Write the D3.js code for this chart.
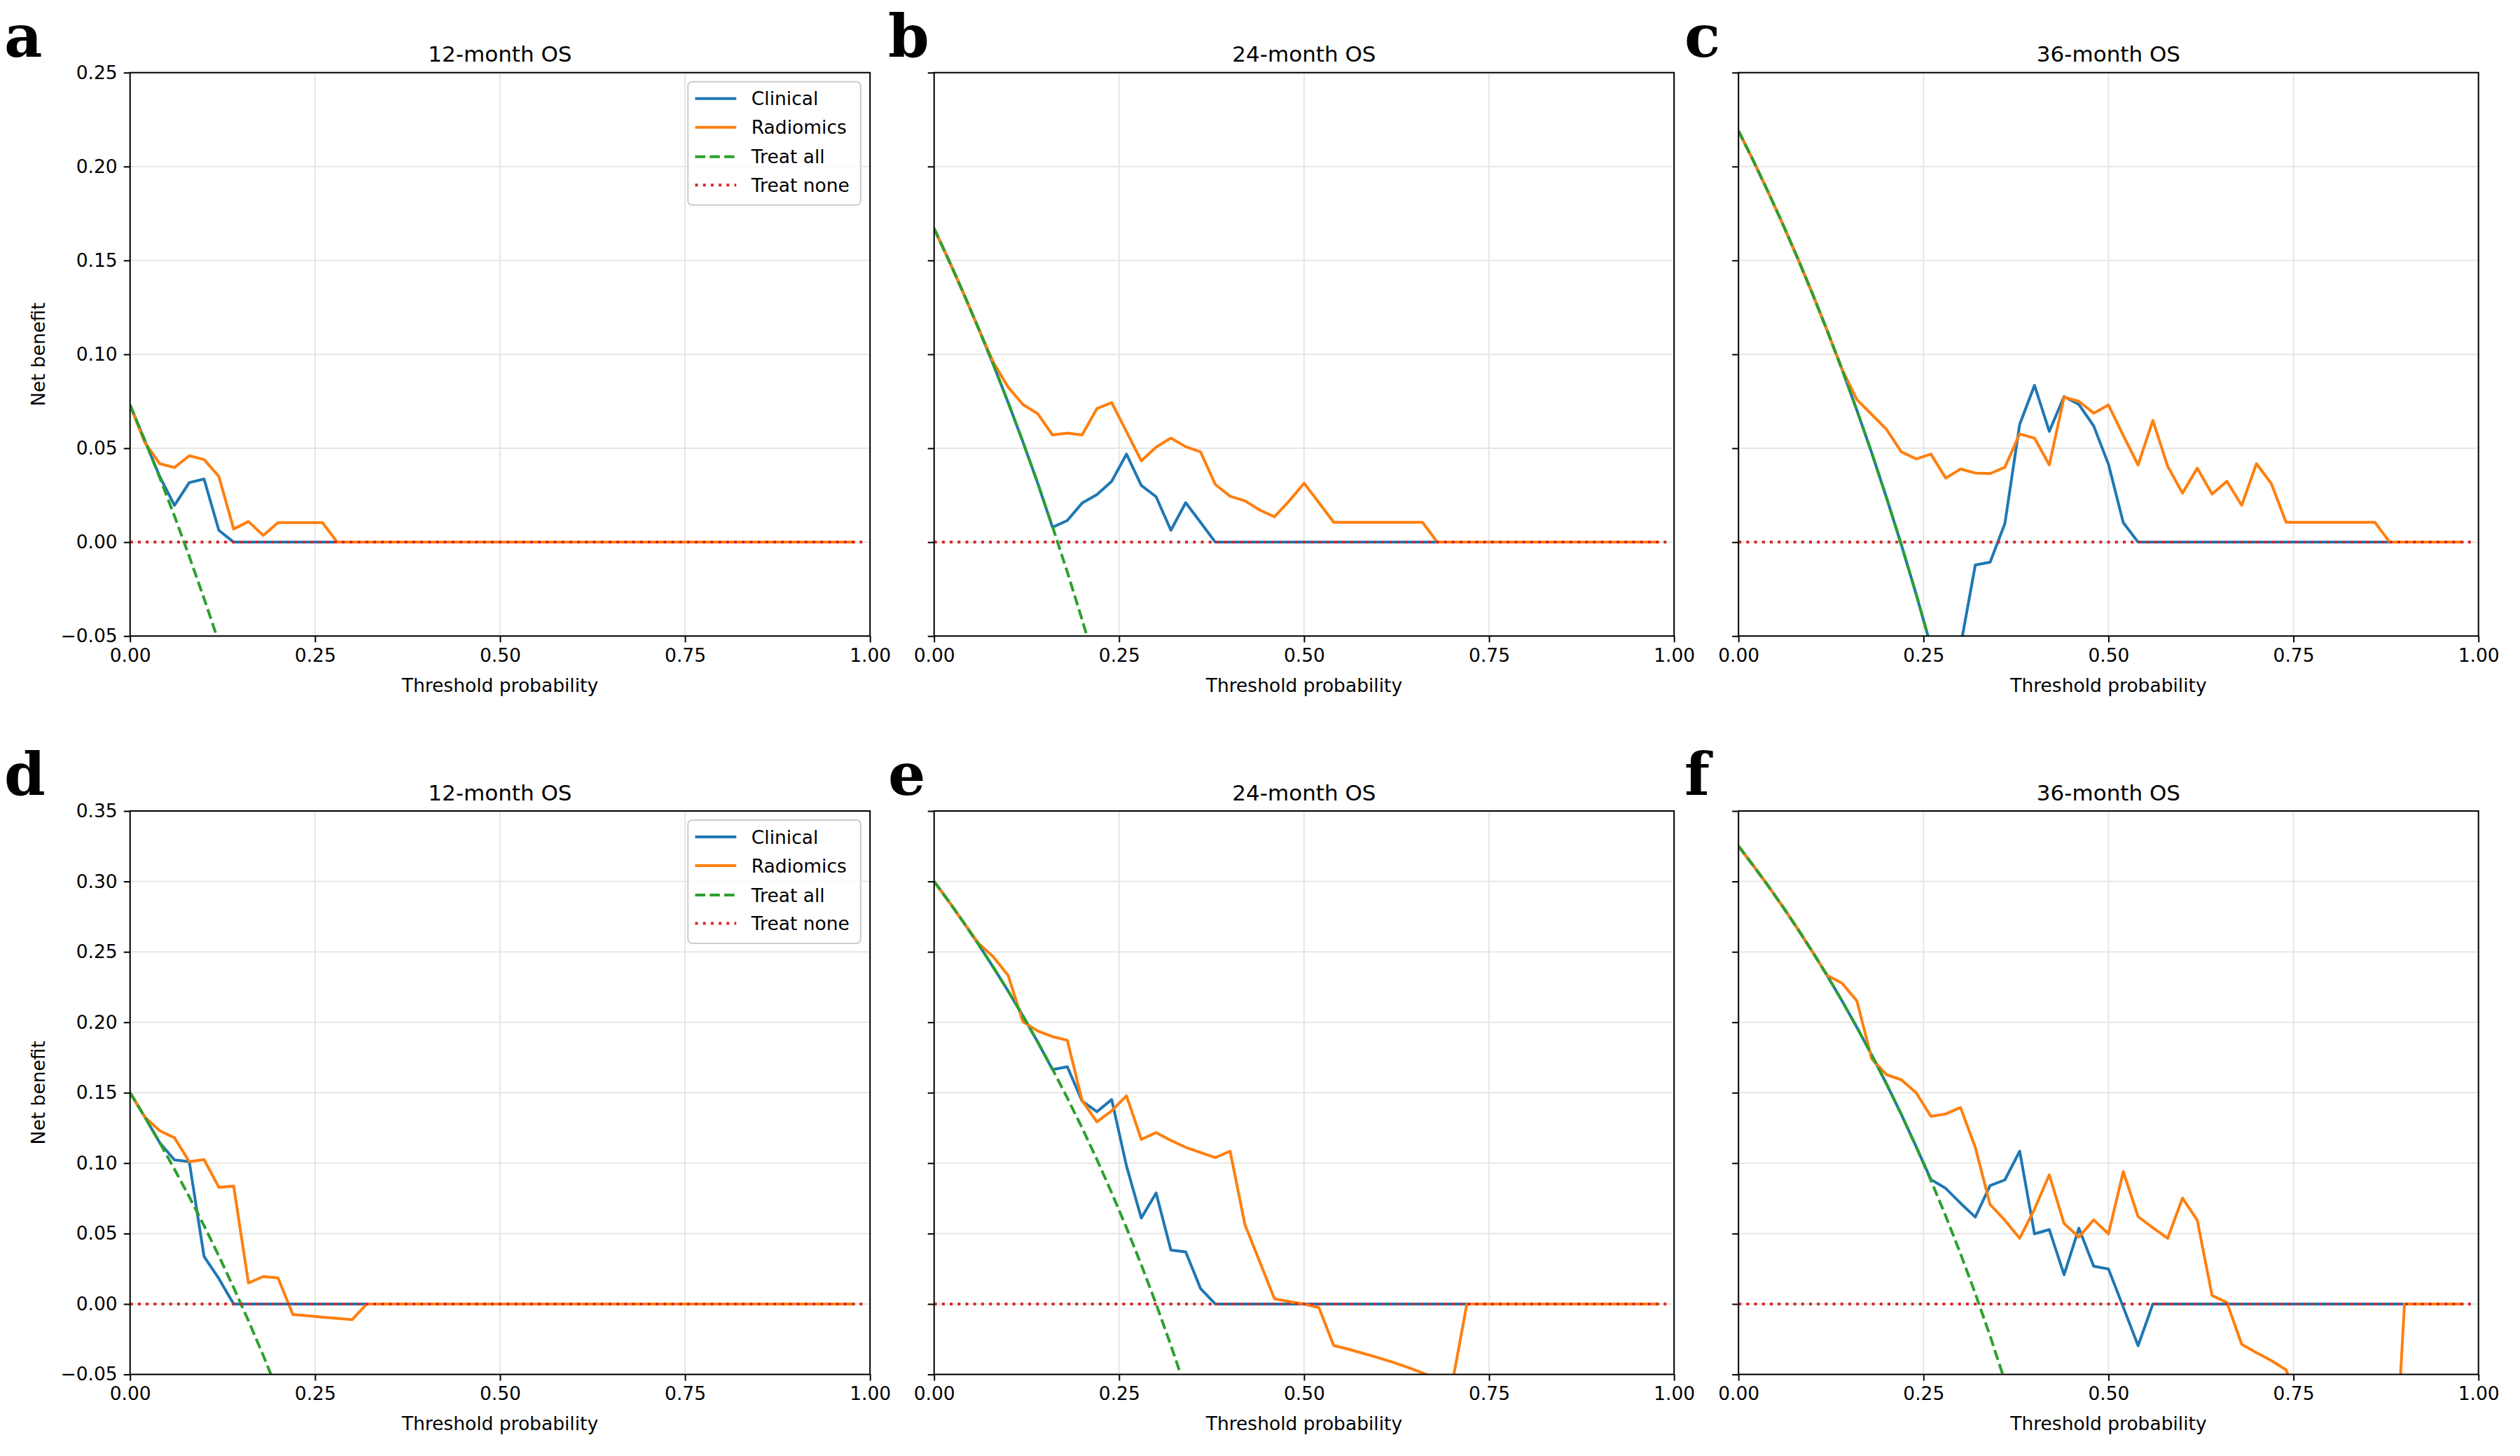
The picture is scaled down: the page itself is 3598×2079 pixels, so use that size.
<!DOCTYPE html>
<html>
<head>
<meta charset="utf-8">
<script src="https://cdn.jsdelivr.net/npm/d3@7"></script>
<style>
  body { margin: 0; background: #fff; }
  svg { display: block; }
</style>
</head>
<body>
<div id="chart"></div>
<script>
// Threshold grid shared by every panel
const thresholds = [0.00, 0.02, 0.04, 0.06, 0.08, 0.10, 0.12, 0.14, 0.16, 0.18,
  0.20, 0.22, 0.24, 0.26, 0.28, 0.30, 0.32, 0.34, 0.36, 0.38,
  0.40, 0.42, 0.44, 0.46, 0.48, 0.50, 0.52, 0.54, 0.56, 0.58,
  0.60, 0.62, 0.64, 0.66, 0.68, 0.70, 0.72, 0.74, 0.76, 0.78,
  0.80, 0.82, 0.84, 0.86, 0.88, 0.90, 0.92, 0.94, 0.96, 0.98];
const treatNoneX = [0, 0.99];
const treatNone = [0, 0];

const xTicks = [0, 0.25, 0.5, 0.75, 1.0];
const yTicksTop = [-0.05, 0, 0.05, 0.10, 0.15, 0.20, 0.25];
const yTicksBottom = [-0.05, 0, 0.05, 0.10, 0.15, 0.20, 0.25, 0.30, 0.35];

const panelLetters = ['a', 'b', 'c', 'd', 'e', 'f'];
const panelTitles = ['12-month OS', '24-month OS', '36-month OS', '12-month OS', '24-month OS', '36-month OS'];
const seriesNames = ['Clinical', 'Radiomics', 'Treat all', 'Treat none'];

// (a) 12-month, top row
const clinicalA = [0.073, 0.054, 0.035, 0.0196, 0.0317, 0.0336, 0.0063, 0, 0, 0,
  0, 0, 0, 0, 0, 0, 0, 0, 0, 0, 0, 0, 0, 0, 0, 0, 0, 0, 0, 0,
  0, 0, 0, 0, 0, 0, 0, 0, 0, 0, 0, 0, 0, 0, 0, 0, 0, 0, 0, 0];
const radiomicsA = [0.073, 0.053, 0.0418, 0.0397, 0.046, 0.044, 0.035, 0.007, 0.011, 0.0036,
  0.0104, 0.0104, 0.0104, 0.0104, 0, 0, 0, 0, 0, 0, 0, 0, 0, 0, 0, 0, 0, 0, 0, 0,
  0, 0, 0, 0, 0, 0, 0, 0, 0, 0, 0, 0, 0, 0, 0, 0, 0, 0, 0, 0];
const treatAllA = [0.073, 0.0541, 0.0344, 0.0139, -0.0076, -0.030, -0.0534, -0.0779];

// (b) 24-month, top row
const clinicalB = [0.167, 0.150, 0.1323, 0.1138, 0.0946, 0.0744, 0.0534, 0.0314, 0.0079, 0.0115,
  0.0208, 0.0253, 0.0324, 0.0469, 0.0302, 0.0242, 0.0063, 0.021, 0.0106, 0,
  0, 0, 0, 0, 0, 0, 0, 0, 0, 0, 0, 0, 0, 0, 0, 0, 0, 0, 0, 0,
  0, 0, 0, 0, 0, 0, 0, 0, 0, 0];
const radiomicsB = [0.167, 0.150, 0.1323, 0.1138, 0.0958, 0.0825, 0.0733, 0.0684, 0.0571, 0.058,
  0.0571, 0.0711, 0.0743, 0.0588, 0.0433, 0.0506, 0.0554, 0.0508, 0.0481, 0.0307,
  0.0244, 0.022, 0.0171, 0.0135, 0.022, 0.0314, 0.021, 0.0106, 0.0106, 0.0106,
  0.0106, 0.0106, 0.0106, 0.0106, 0, 0, 0, 0, 0, 0,
  0, 0, 0, 0, 0, 0, 0, 0, 0, 0];
const treatAllB = [0.167, 0.150, 0.1323, 0.1138, 0.0946, 0.0744, 0.0534, 0.0314, 0.0083, -0.0159,
  -0.0413, -0.068];

// (c) 36-month, top row
const clinicalC = [0.219, 0.2031, 0.1865, 0.1692, 0.1511, 0.1322, 0.1125, 0.0919, 0.0702, 0.0476,
  0.0237, -0.0013, -0.0276, -0.0554, -0.075, -0.0556, -0.0122, -0.0107, 0.0099, 0.0627,
  0.0835, 0.059, 0.0775, 0.0733, 0.0619, 0.0414, 0.0104, 0, 0, 0,
  0, 0, 0, 0, 0, 0, 0, 0, 0, 0, 0, 0, 0, 0, 0, 0, 0, 0, 0, 0];
const radiomicsC = [0.219, 0.2031, 0.1865, 0.1692, 0.1511, 0.1322, 0.1125, 0.092, 0.0759, 0.068,
  0.06, 0.0481, 0.0443, 0.0469, 0.0341, 0.0389, 0.0368, 0.0365, 0.0399, 0.0576,
  0.0554, 0.0411, 0.0772, 0.075, 0.0687, 0.073, 0.0568, 0.0411, 0.0648, 0.0404,
  0.0261, 0.0394, 0.0256, 0.0324, 0.0196, 0.0418, 0.0312, 0.0106, 0.0106, 0.0106,
  0.0106, 0.0106, 0.0106, 0.0106, 0, 0, 0, 0, 0, 0];
const treatAllC = [0.219, 0.2031, 0.1865, 0.1692, 0.1511, 0.1322, 0.1125, 0.0919, 0.0702, 0.0476,
  0.0237, -0.0013, -0.0276, -0.0554];

// (d) 12-month, bottom row
const clinicalD = [0.15, 0.1327, 0.1146, 0.1023, 0.101, 0.0337, 0.018, 0, 0, 0,
  0, 0, 0, 0, 0, 0, 0, 0, 0, 0, 0, 0, 0, 0, 0, 0, 0, 0, 0, 0,
  0, 0, 0, 0, 0, 0, 0, 0, 0, 0, 0, 0, 0, 0, 0, 0, 0, 0, 0, 0];
const radiomicsD = [0.15, 0.1327, 0.123, 0.118, 0.101, 0.1025, 0.0828, 0.0838, 0.0149, 0.0195,
  0.0185, -0.0075, -0.0084, -0.0093, -0.0102, -0.0111, 0, 0, 0, 0,
  0, 0, 0, 0, 0, 0, 0, 0, 0, 0, 0, 0, 0, 0, 0, 0, 0, 0, 0, 0,
  0, 0, 0, 0, 0, 0, 0, 0, 0, 0];
const treatAllD = [0.15, 0.1327, 0.1146, 0.0957, 0.0761, 0.0556, 0.0341, 0.0116, -0.0119, -0.0366,
  -0.0625];

// (e) 24-month, bottom row
const clinicalE = [0.30, 0.2857, 0.2708, 0.2553, 0.2391, 0.2222, 0.2045, 0.186, 0.1664, 0.1684,
  0.1441, 0.1365, 0.1451, 0.098, 0.061, 0.0788, 0.0383, 0.037, 0.011, 0,
  0, 0, 0, 0, 0, 0, 0, 0, 0, 0, 0, 0, 0, 0, 0, 0, 0, 0, 0, 0,
  0, 0, 0, 0, 0, 0, 0, 0, 0, 0];
const radiomicsE = [0.30, 0.2857, 0.2708, 0.2561, 0.2465, 0.2333, 0.2004, 0.1938, 0.1898, 0.1872,
  0.1444, 0.1293, 0.1372, 0.1478, 0.1168, 0.1217, 0.1161, 0.1112, 0.1075, 0.1039,
  0.1085, 0.0564, 0.030, 0.0037, 0.0017, 0, -0.0025, -0.0295, -0.0321, -0.0351,
  -0.0381, -0.0414, -0.045, -0.049, -0.053, -0.057, 0, 0, 0, 0,
  0, 0, 0, 0, 0, 0, 0, 0, 0, 0];
const treatAllE = [0.30, 0.2857, 0.2708, 0.2553, 0.2391, 0.2222, 0.2045, 0.186, 0.1667, 0.1463,
  0.125, 0.1026, 0.0789, 0.0541, 0.0278, 0, -0.0294, -0.0606];

// (f) 36-month, bottom row
const clinicalF = [0.325, 0.3112, 0.2969, 0.2819, 0.2663, 0.25, 0.233, 0.2151, 0.1964, 0.1768,
  0.1563, 0.1346, 0.1118, 0.0884, 0.0821, 0.0716, 0.0617, 0.0841, 0.0881, 0.1085,
  0.0498, 0.0528, 0.0208, 0.0538, 0.0268, 0.0248, -0.0022, -0.0296, 0, 0,
  0, 0, 0, 0, 0, 0, 0, 0, 0, 0, 0, 0, 0, 0, 0, 0, 0, 0, 0, 0];
const radiomicsF = [0.325, 0.3112, 0.2969, 0.2819, 0.2663, 0.25, 0.2333, 0.2277, 0.2152, 0.174,
  0.1628, 0.1592, 0.15, 0.1332, 0.1349, 0.1395, 0.1112, 0.0706, 0.0594, 0.0466,
  0.0673, 0.0917, 0.0571, 0.0475, 0.0597, 0.0498, 0.094, 0.062, 0.0541, 0.0466,
  0.0752, 0.0594, 0.006, 0.0011, -0.0286, -0.0346, -0.0402, -0.0468, -0.075, -0.1,
  -0.12, -0.14, -0.16, -0.175, -0.19, 0, 0, 0, 0, 0];
const treatAllF = [0.325, 0.3112, 0.2969, 0.2819, 0.2663, 0.25, 0.233, 0.2151, 0.1964, 0.1768,
  0.1563, 0.1346, 0.1118, 0.0878, 0.0625, 0.0357, 0.0074, -0.0227, -0.0547];

const COLORS = { clinical: '#1f77b4', radiomics: '#ff7f0e', all: '#2ca02c', none: '#d62728',
  grid: '#e6e6e6', ink: '#000' };
const FONT = 'DejaVu Sans, sans-serif';
const FS = 26.5;

const W = 3598, H = 2079;
const colLeft = [185.7, 1333.7, 2482.2];
const colLetterX = [6, 1268, 2405];
const rowTop = [103.7, 1158];
const plotW = 1056.5, plotH = 804.5;
const LW = 4;

const panels = [
  { clinical: clinicalA, radiomics: radiomicsA, all: treatAllA, yTicks: yTicksTop },
  { clinical: clinicalB, radiomics: radiomicsB, all: treatAllB, yTicks: yTicksTop },
  { clinical: clinicalC, radiomics: radiomicsC, all: treatAllC, yTicks: yTicksTop },
  { clinical: clinicalD, radiomics: radiomicsD, all: treatAllD, yTicks: yTicksBottom },
  { clinical: clinicalE, radiomics: radiomicsE, all: treatAllE, yTicks: yTicksBottom },
  { clinical: clinicalF, radiomics: radiomicsF, all: treatAllF, yTicks: yTicksBottom },
];

const svg = d3.select('#chart').append('svg')
  .attr('width', W).attr('height', H).attr('viewBox', `0 0 ${W} ${H}`);
svg.append('rect').attr('width', W).attr('height', H).attr('fill', '#fff');

const minus = (s) => s.replace('-', '\u2212');
const fmt = d3.format('.2f');

panels.forEach((p, k) => {
  const row = Math.floor(k / 3), col = k % 3;
  const left = colLeft[col], top = rowTop[row];
  const g = svg.append('g').attr('transform', `translate(${left},${top})`);

  const x = d3.scaleLinear().domain([0, 1]).range([0, plotW]);
  const y = d3.scaleLinear().domain(d3.extent(p.yTicks)).range([plotH, 0]);

  const clipId = `clip-${k}`;
  svg.append('clipPath').attr('id', clipId)
    .append('rect').attr('width', plotW).attr('height', plotH);

  // grid
  g.append('g').selectAll('line.gx').data(xTicks).enter().append('line')
    .attr('x1', (d) => x(d)).attr('x2', (d) => x(d)).attr('y1', 0).attr('y2', plotH)
    .attr('stroke', COLORS.grid).attr('stroke-width', 2);
  g.append('g').selectAll('line.gy').data(p.yTicks).enter().append('line')
    .attr('x1', 0).attr('x2', plotW).attr('y1', (d) => y(d)).attr('y2', (d) => y(d))
    .attr('stroke', COLORS.grid).attr('stroke-width', 2);

  const line = d3.line().x((d, i) => x(thresholds[i])).y((d) => y(d));
  const lines = g.append('g').attr('clip-path', `url(#${clipId})`);
  lines.append('path').attr('d', line(p.clinical))
    .attr('fill', 'none').attr('stroke', COLORS.clinical).attr('stroke-width', LW)
    .attr('stroke-linejoin', 'round');
  lines.append('path').attr('d', line(p.radiomics))
    .attr('fill', 'none').attr('stroke', COLORS.radiomics).attr('stroke-width', LW)
    .attr('stroke-linejoin', 'round');
  lines.append('path').attr('d', line(p.all))
    .attr('fill', 'none').attr('stroke', COLORS.all).attr('stroke-width', LW)
    .attr('stroke-dasharray', '14.5,6.3');
  lines.append('path')
    .attr('d', d3.line().x((d, i) => x(treatNoneX[i])).y((d) => y(d))(treatNone))
    .attr('fill', 'none').attr('stroke', COLORS.none).attr('stroke-width', LW)
    .attr('stroke-dasharray', '4,7.2');

  // axes
  const xAxis = g.append('g').attr('transform', `translate(0,${plotH})`)
    .call(d3.axisBottom(x).tickValues(xTicks).tickFormat(fmt).tickSize(9).tickPadding(9));
  const yAxis = g.append('g')
    .call(d3.axisLeft(y).tickValues(p.yTicks).tickFormat((d) => col === 0 ? minus(fmt(d)) : '')
      .tickSize(9).tickPadding(9));
  [xAxis, yAxis].forEach((a) => {
    a.select('.domain').remove();
    a.selectAll('line').attr('stroke', COLORS.ink).attr('stroke-width', 2);
    a.selectAll('text').attr('fill', COLORS.ink).style('font-family', FONT).style('font-size', `${FS}px`);
  });

  // frame
  g.append('rect').attr('width', plotW).attr('height', plotH)
    .attr('fill', 'none').attr('stroke', COLORS.ink).attr('stroke-width', 2);

  // texts
  g.append('text').attr('x', plotW / 2).attr('y', -15.5).attr('text-anchor', 'middle')
    .style('font-family', FONT).style('font-size', '31px').text(panelTitles[k]);
  g.append('text').attr('x', plotW / 2).attr('y', plotH + 79.5).attr('text-anchor', 'middle')
    .style('font-family', FONT).style('font-size', `${FS}px`).text('Threshold probability');
  if (col === 0) {
    g.append('text').attr('transform', `translate(${64 - left},${plotH / 2}) rotate(-90)`)
      .attr('text-anchor', 'middle')
      .style('font-family', FONT).style('font-size', `${FS}px`).text('Net benefit');
  }
  svg.append('text').attr('x', colLetterX[col]).attr('y', top - 23)
    .style('font-family', 'DejaVu Serif, serif').style('font-weight', 'bold')
    .style('font-size', '84px').text(panelLetters[k]);

  // legend in the first column only
  if (col === 0) {
    const lg = g.append('g').attr('transform', `translate(${plotW - 13.4 - 246.6},13)`);
    lg.append('rect').attr('width', 246.6).attr('height', 176).attr('rx', 6)
      .attr('fill', '#fff').attr('fill-opacity', 0.8)
      .attr('stroke', '#cccccc').attr('stroke-width', 2);
    const rowY = [24, 65, 107, 147.5];
    const styles = [
      { c: COLORS.clinical, dash: null },
      { c: COLORS.radiomics, dash: null },
      { c: COLORS.all, dash: '14.5,6.3' },
      { c: COLORS.none, dash: '4,7.2' },
    ];
    seriesNames.forEach((name, i) => {
      const l = lg.append('line').attr('x1', 10.3).attr('x2', 69).attr('y1', rowY[i]).attr('y2', rowY[i])
        .attr('stroke', styles[i].c).attr('stroke-width', LW);
      if (styles[i].dash) l.attr('stroke-dasharray', styles[i].dash);
      lg.append('text').attr('x', 90.6).attr('y', rowY[i]).attr('dy', '0.36em')
        .style('font-family', FONT).style('font-size', `${FS}px`).text(name);
    });
  }
});
</script>
</body>
</html>
